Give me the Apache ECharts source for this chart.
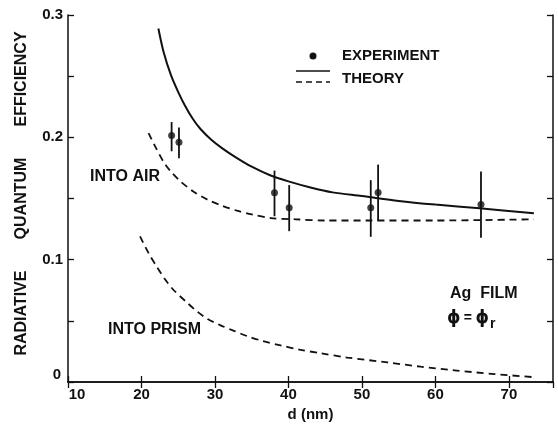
<!DOCTYPE html>
<html>
<head>
<meta charset="utf-8">
<script src="https://cdn.jsdelivr.net/npm/echarts@6/dist/echarts.min.js"></script>
<style>
  html, body { margin: 0; padding: 0; background: #ffffff; }
  #chart { width: 558px; height: 433px; }
</style>
</head>
<body>
<div id="chart"></div>
<script>
// ---- data ----
var xTicks = [10, 20, 30, 40, 50, 60, 70];
var yTicks = [0, 0.1, 0.2, 0.3];

// theory, into air (solid)
var theoryAirD = [22.3, 23.0, 24.0, 25.0, 26.0, 27.0, 28.0, 29.5, 31.0, 33.0, 35.0, 37.5, 40.0, 43.0, 46.0, 50.0, 55.0, 60.0, 66.0, 73.4];
var theoryAirQ = [0.289, 0.270, 0.251, 0.237, 0.225, 0.215, 0.207, 0.198, 0.191, 0.183, 0.176, 0.169, 0.164, 0.159, 0.155, 0.152, 0.148, 0.145, 0.142, 0.138];

// theory, into air (dashed)
var theoryAir2D = [20.96, 22.0, 23.0, 24.0, 25.3, 27.0, 29.0, 31.0, 33.0, 35.0, 37.6, 41.0, 45.0, 51.0, 60.0, 73.4];
var theoryAir2Q = [0.2035, 0.191, 0.180, 0.172, 0.164, 0.156, 0.149, 0.144, 0.140, 0.137, 0.134, 0.133, 0.132, 0.132, 0.132, 0.133];

// theory, into prism (dashed)
var prismD = [19.8, 21.0, 22.1, 23.2, 24.4, 26.0, 27.6, 29.0, 30.7, 32.5, 34.4, 36.5, 38.9, 41.5, 44.4, 48.0, 53.5, 58.0, 62.6, 68.0, 73.3];
var prismQ = [0.119, 0.105, 0.094, 0.084, 0.075, 0.066, 0.0575, 0.0515, 0.0465, 0.042, 0.0375, 0.0335, 0.030, 0.0265, 0.0235, 0.020, 0.016, 0.0125, 0.0095, 0.0065, 0.004];

// experiment
var expD  = [24.1, 25.1, 38.1, 40.1, 51.2, 52.2, 66.2];
var expQ  = [0.2015, 0.196, 0.1546, 0.1424, 0.1424, 0.155, 0.145];
var expLo = [0.1886, 0.183, 0.1355, 0.1233, 0.1187, 0.1323, 0.118];
var expHi = [0.2125, 0.208, 0.1728, 0.161, 0.165, 0.1777, 0.172];

// ---- build ----
function pairs(a, b) { return a.map(function (v, i) { return [v, b[i]]; }); }
var errData = expD.map(function (d, i) { return [d, expLo[i], expHi[i]]; });

var FONT = 'Liberation Sans';
var W = 'bold';
var INK = '#111';
var chart = echarts.init(document.getElementById('chart'), null, { renderer: 'canvas' });

var frameLine = { show: true, lineStyle: { color: INK, width: 1.5 } };
var tickIn = { show: true, inside: true, length: 6, lineStyle: { color: INK, width: 1.3 } };

chart.setOption({
  backgroundColor: '#ffffff',
  animation: false,
  grid: { left: 68, top: 15, right: 5, bottom: 51, containLabel: false },
  xAxis: [{
    type: 'value', min: 10, max: 76, interval: 10, position: 'bottom',
    axisLine: frameLine, axisTick: tickIn, splitLine: { show: false },
    name: 'd (nm)', nameLocation: 'middle', nameGap: 25,
    nameTextStyle: { fontFamily: FONT, fontWeight: W, fontSize: 15, color: INK },
    axisLabel: {
      margin: 5, fontFamily: FONT, fontWeight: W, fontSize: 15, color: INK,
      showMaxLabel: false,
      formatter: function (v) {
        if (xTicks.indexOf(v) < 0) return '';
        return v === 10 ? '{s|10}' : String(v);
      },
      rich: { s: { fontFamily: FONT, fontWeight: W, fontSize: 15, color: INK, padding: [0, 0, 0, 18] } }
    }
  }, {
    type: 'value', min: 10, max: 76, interval: 10, position: 'top',
    axisLine: frameLine, axisTick: tickIn, axisLabel: { show: false }, splitLine: { show: false }
  }],
  yAxis: [{
    type: 'value', min: 0, max: 0.3, interval: 0.05, position: 'left',
    axisLine: frameLine, axisTick: tickIn, splitLine: { show: false },
    name: 'RADIATIVE       QUANTUM       EFFICIENCY', nameLocation: 'middle', nameGap: 38,
    nameTextStyle: { fontFamily: FONT, fontWeight: W, fontSize: 16, color: INK, padding: [0, 0, 0, 10] },
    axisLabel: {
      margin: 5, fontFamily: FONT, fontWeight: W, fontSize: 15, color: INK,
      formatter: function (v) {
        var r = Math.round(v * 100) / 100;
        if (yTicks.indexOf(r) < 0) return '';
        return r === 0 ? '{z|0}' : r.toFixed(1);
      },
      rich: { z: { fontFamily: FONT, fontWeight: W, fontSize: 15, color: INK, padding: [0, 2, 14, 0] } }
    }
  }, {
    type: 'value', min: 0, max: 0.3, interval: 0.05, position: 'right',
    axisLine: frameLine, axisTick: tickIn, axisLabel: { show: false }, splitLine: { show: false }
  }],
  series: [
    {
      type: 'line', name: 'theory air', data: pairs(theoryAirD, theoryAirQ),
      smooth: 0.3, showSymbol: false, symbol: 'none',
      lineStyle: { color: INK, width: 2 }
    },
    {
      type: 'line', name: 'theory air 2', data: pairs(theoryAir2D, theoryAir2Q),
      smooth: 0.3, showSymbol: false, symbol: 'none',
      lineStyle: { color: INK, width: 1.8, type: [7, 5] }
    },
    {
      type: 'line', name: 'theory prism', data: pairs(prismD, prismQ),
      smooth: 0.3, showSymbol: false, symbol: 'none',
      lineStyle: { color: INK, width: 1.8, type: [7, 5] }
    },
    {
      type: 'custom', name: 'error',
      data: errData,
      renderItem: function (params, api) {
        var top = api.coord([api.value(0), api.value(2)]);
        var bot = api.coord([api.value(0), api.value(1)]);
        return {
          type: 'line',
          shape: { x1: top[0], y1: top[1], x2: bot[0], y2: bot[1] },
          style: { stroke: INK, lineWidth: 1.8 }
        };
      },
      z: 3
    },
    {
      type: 'scatter', name: 'experiment', data: pairs(expD, expQ),
      symbol: 'circle', symbolSize: 7,
      itemStyle: { color: INK }, z: 4
    }
  ],
  graphic: [
    { type: 'circle', shape: { cx: 313, cy: 56, r: 3.5 }, style: { fill: INK } },
    { type: 'text', left: 342, top: 48, style: { text: 'EXPERIMENT', fontFamily: FONT, fontWeight: W, fontSize: 15, fill: INK } },
    { type: 'line', shape: { x1: 296, y1: 71, x2: 330, y2: 71 }, style: { stroke: INK, lineWidth: 1.6 } },
    { type: 'line', shape: { x1: 296, y1: 82, x2: 330, y2: 82 }, style: { stroke: INK, lineWidth: 1.6, lineDash: [6, 4] } },
    { type: 'text', left: 342, top: 71, style: { text: 'THEORY', fontFamily: FONT, fontWeight: W, fontSize: 15, fill: INK } },
    { type: 'text', left: 90, top: 169, style: { text: 'INTO AIR', fontFamily: FONT, fontWeight: W, fontSize: 16, fill: INK } },
    { type: 'text', left: 108, top: 322, style: { text: 'INTO PRISM', fontFamily: FONT, fontWeight: W, fontSize: 16, fill: INK } },
    { type: 'text', left: 450, top: 286, style: { text: 'Ag  FILM', fontFamily: FONT, fontWeight: W, fontSize: 16, fill: INK } },
    { type: 'text', left: 447, top: 310, style: {
        text: '{p|\u03D5} {q|=} {p|\u03D5}{r|r}',
        rich: {
          p: { fontFamily: 'DejaVu Sans', fontSize: 17, fontWeight: 'bold', fill: INK },
          q: { fontFamily: FONT, fontSize: 14, fontWeight: 'bold', fill: INK },
          r: { fontFamily: FONT, fontSize: 14, fontWeight: 'bold', fill: INK, padding: [12, 0, 0, 1] }
        }
    } }
  ]
});
</script>
</body>
</html>
